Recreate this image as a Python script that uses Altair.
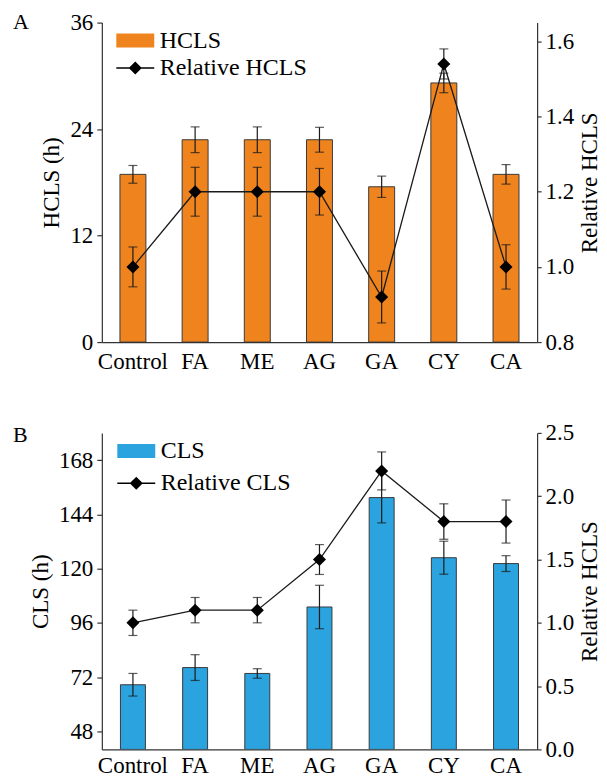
import altair as alt
import pandas as pd

categories = ["Control", "FA", "ME", "AG", "GA", "CY", "CA"]

# Panel A
hcls = [18.9, 22.8, 22.8, 22.8, 17.5, 29.2, 18.9]
hcls_err = [1.0, 1.45, 1.45, 1.4, 1.2, 1.1, 1.1]
rel_hcls = [1.0, 1.2, 1.2, 1.2, 0.92, 1.54, 1.0]
rel_hcls_err = [0.053, 0.065, 0.065, 0.062, 0.069, 0.04, 0.059]

# Panel B
cls = [68.6, 76.2, 73.6, 103.0, 151.4, 124.8, 122.2]
cls_err = [5.0, 5.7, 2.1, 9.6, 11.2, 7.3, 3.5]
rel_cls = [1.0, 1.1, 1.1, 1.5, 2.2, 1.8, 1.8]
rel_cls_err = [0.1, 0.1, 0.1, 0.118, 0.15, 0.14, 0.17]

ticks_a_left = [0, 12, 24, 36]
ticks_a_right = [0.8, 1.0, 1.2, 1.4, 1.6]
ticks_b_left = [48, 72, 96, 120, 144, 168]
ticks_b_right = [0.0, 0.5, 1.0, 1.5, 2.0, 2.5]

FONT = "Liberation Serif"
ORANGE = "#EF841F"
BLUE = "#2AA3DF"
INK = "#1a1a1a"
EDGE = "#3a3a3a"

RECT_PATH = "M-1,-0.368H1V0.368H-1Z"
LINE_DIAMOND_PATH = ("M-1,-0.035L-0.305,-0.035L0,-0.34L0.305,-0.035L1,-0.035"
                     "L1,0.035L0.305,0.035L0,0.34L-0.305,0.035L-1,0.035Z")


def panel(label, bar_name, rel_name, vals, errs, rvals, rerrs, color,
          ldomain, lticks, rdomain, rticks, ltitle, rtitle, height,
          bar_size, leg_x, leg_y, leg_pad, title_dy, xlab_pad):
    df = pd.DataFrame({
        "cat": categories,
        "v": vals,
        "lo": [v - e for v, e in zip(vals, errs)],
        "hi": [v + e for v, e in zip(vals, errs)],
        "r": rvals,
        "rlo": [v - e for v, e in zip(rvals, rerrs)],
        "rhi": [v + e for v, e in zip(rvals, rerrs)],
    })
    base = alt.Chart(df)
    xaxis = alt.Axis(labelAngle=0, ticks=False, labelPadding=xlab_pad,
                     title=None)
    x = alt.X("cat:N", sort=categories, title=None,
              scale=alt.Scale(paddingInner=0, paddingOuter=0), axis=xaxis)

    ly = alt.Scale(domain=ldomain, nice=False, zero=False)
    laxis = alt.Axis(title=ltitle, values=lticks, tickSize=5, labelPadding=4,
                     titlePadding=6, orient="left")
    ry = alt.Scale(domain=rdomain, nice=False, zero=False)
    raxis = alt.Axis(title=rtitle, values=rticks, format=".1f", tickSize=4,
                     labelPadding=4, titlePadding=5, titleAngle=270,
                     titleBaseline="top", orient="right")

    bars = base.mark_bar(size=bar_size, fill=color, stroke=EDGE,
                         strokeWidth=1, clip=True).encode(
        x=x, y=alt.Y("v:Q", scale=ly, axis=laxis), y2=alt.datum(ldomain[0]))
    berr = base.mark_rule(color=INK, strokeWidth=1.2).encode(
        x=x, y=alt.Y("lo:Q", scale=ly, axis=laxis), y2="hi:Q")
    bcap_lo = base.mark_tick(orient="horizontal", size=9, thickness=1.2,
                             color=INK).encode(
        x=x, y=alt.Y("lo:Q", scale=ly, axis=laxis))
    bcap_hi = base.mark_tick(orient="horizontal", size=9, thickness=1.2,
                             color=INK).encode(
        x=x, y=alt.Y("hi:Q", scale=ly, axis=laxis))
    left = alt.layer(bars, berr, bcap_lo, bcap_hi)

    line = base.mark_line(color=INK, strokeWidth=1.3).encode(
        x=x, y=alt.Y("r:Q", scale=ry, axis=raxis))
    rerr = base.mark_rule(color=INK, strokeWidth=1.2).encode(
        x=x, y=alt.Y("rlo:Q", scale=ry, axis=raxis), y2="rhi:Q")
    rcap_lo = base.mark_tick(orient="horizontal", size=9, thickness=1.2,
                             color=INK).encode(
        x=x, y=alt.Y("rlo:Q", scale=ry, axis=raxis))
    rcap_hi = base.mark_tick(orient="horizontal", size=9, thickness=1.2,
                             color=INK).encode(
        x=x, y=alt.Y("rhi:Q", scale=ry, axis=raxis))
    pts = base.mark_point(shape="diamond", size=170, filled=True,
                          color="black", opacity=1).encode(
        x=x, y=alt.Y("r:Q", scale=ry, axis=raxis))
    right = alt.layer(line, rerr, rcap_lo, rcap_hi, pts)

    names = [bar_name, rel_name]
    leg = alt.Legend(title=None, orient="none", legendX=leg_x, legendY=leg_y,
                     symbolSize=1444, clipHeight=24, rowPadding=leg_pad,
                     labelFont=FONT, labelFontSize=24, labelColor="black",
                     labelOffset=5, symbolStrokeColor=EDGE,
                     symbolStrokeWidth=0.8, padding=0, symbolOpacity=1)
    legend_layer = alt.Chart(pd.DataFrame({"series": names})).transform_filter(
        "datum.series == 'none'").mark_point(filled=True).encode(
        color=alt.Color("series:N", scale=alt.Scale(domain=names,
                        range=[color, "#000000"]), legend=leg),
        shape=alt.Shape("series:N", scale=alt.Scale(domain=names,
                        range=[RECT_PATH, LINE_DIAMOND_PATH]), legend=leg),
    )

    return alt.layer(left, right, legend_layer).resolve_scale(
        y="independent").properties(
        width=436, height=height,
        title=alt.TitleParams(label, anchor="start", frame="group", dx=-89,
                              dy=title_dy, fontSize=22, font=FONT,
                              fontWeight="normal", color="black"))


pa = panel("A", "HCLS", "Relative HCLS", hcls, hcls_err, rel_hcls,
           rel_hcls_err, ORANGE, [0, 36], ticks_a_left, [0.8, 1.65],
           ticks_a_right, "HCLS (h)", "Relative HCLS", 320, 26, 14, 6, 3.5,
           26, 8)
pb = panel("B", "CLS", "Relative CLS", cls, cls_err, rel_cls, rel_cls_err,
           BLUE, [40, 180], ticks_b_left, [0, 2.5], ticks_b_right,
           "CLS (h)", "Relative HCLS", 317, 25, 15, 6, 8.4, 29, 5)

chart = alt.vconcat(pa, pb, spacing=91, bounds="flush").resolve_scale(
    color="independent", shape="independent").properties(
    padding={"left": 13, "top": 10, "right": 5, "bottom": 2}
).configure_view(strokeWidth=0).configure_axis(
    labelFont=FONT, titleFont=FONT, labelFontSize=23, titleFontSize=23,
    labelColor="black", titleColor="black", titleFontWeight="normal",
    domainColor="#333333", tickColor="#333333", domainWidth=1.2,
    tickWidth=1.2, grid=False)

chart.save("out.html", embed_options={"renderer": "svg", "actions": False})
